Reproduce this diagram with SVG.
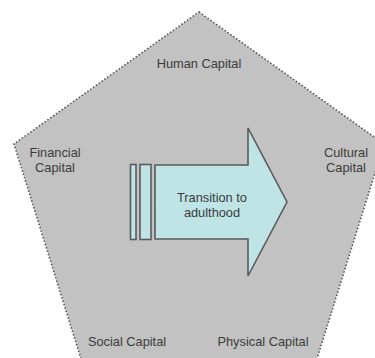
<svg xmlns="http://www.w3.org/2000/svg" width="375" height="358" viewBox="0 0 375 358">
<style>
.lbl{font-family:"Liberation Sans",Arial,sans-serif;font-size:12.8px;fill:#3c3c3c;text-anchor:middle}
.arr{fill:#bfe4e6;stroke:#5a5a5a;stroke-width:1.6}
</style>
<rect width="375" height="358" fill="#ffffff"/>
<g id="pentagon">
<polygon points="199,12 384,144 316,362 82,362 14,144" fill="#c2c2c2" stroke="#555" stroke-width="1.6" stroke-dasharray="1.5,2"/>
</g>
<g id="human"><text class="lbl" x="199" y="68">Human Capital</text></g>
<g id="financial"><text class="lbl" x="55" y="157">Financial</text><text class="lbl" x="55" y="172">Capital</text></g>
<g id="cultural"><text class="lbl" x="346" y="157">Cultural</text><text class="lbl" x="346" y="172">Capital</text></g>
<g id="social"><text class="lbl" x="127" y="346">Social Capital</text></g>
<g id="physical"><text class="lbl" x="263" y="346">Physical Capital</text></g>
<g id="transition">
<rect class="arr" x="130.5" y="164.5" width="5.5" height="75"/>
<rect class="arr" x="140" y="164.5" width="11" height="75"/>
<polygon class="arr" points="155,165 248,165 248,128 287,202 248,276 248,239 155,239"/>
<text class="lbl" x="212" y="202">Transition to</text>
<text class="lbl" x="212" y="217">adulthood</text>
</g>
<g id="connectors"></g>
</svg>
